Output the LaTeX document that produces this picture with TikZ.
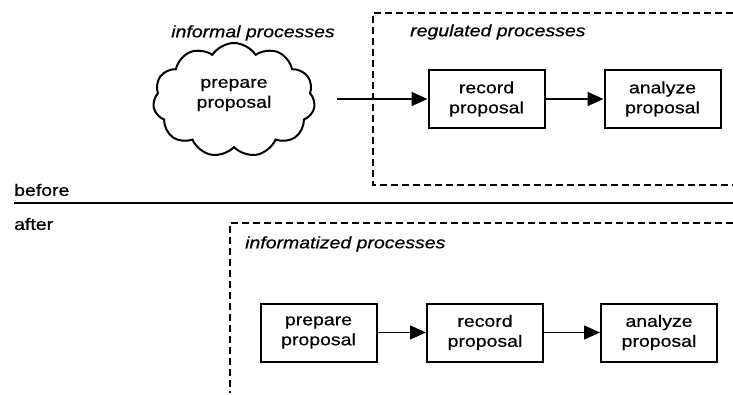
\documentclass[tikz,border=0pt]{standalone}
\usepackage{fontspec}
\setmainfont[FakeStretch=1.18,FakeBold=0.6]{Liberation Sans}
\usetikzlibrary{shapes.symbols,arrows.meta}
\begin{document}
\begin{tikzpicture}[x=1pt,y=-1pt,
  every node/.style={font=\fontsize{16.5}{20}\selectfont},
  procbox/.style={draw,line width=2pt,minimum width=116pt,minimum height=58pt,align=center,inner sep=2pt},
  flow/.style={line width=1.6pt,-{Triangle[length=16pt,width=14pt]}},
  zone/.style={line width=1.6pt,dash pattern=on 7pt off 4pt},
  zonelabel/.style={font=\fontsize{16.5}{20}\selectfont\itshape,anchor=west,inner sep=0pt}]
\useasboundingbox (0,0) rectangle (733,395);

% before: informal cloud and regulated steps
\node[zonelabel,anchor=center] (informal) at (253,33) {informal processes};
\node[cloud,draw,line width=2pt,cloud puffs=11,cloud puff arc=115,aspect=1.45,
      minimum width=162pt,minimum height=114pt,inner sep=0pt,align=center] (cloud) at (234,100) {};
\node[align=center] (prep0) at (234,95) {prepare\\proposal};
\coordinate (start) at (337,99);

\draw[zone] (733,13) -- (373,13) -- (373,185) -- (733,185);
\node[zonelabel] (regulated) at (410,32) {regulated processes};
\node[procbox] (rec0) at (486.5,99) {record\\proposal};
\node[procbox] (ana0) at (662.5,99) {analyze\\proposal};
\draw[flow] (start) -- (rec0.west);
\draw[flow] (rec0) -- (ana0);

% divider
\node[anchor=west,inner sep=0pt] (before) at (14,190) {before};
\node[anchor=west,inner sep=0pt] (after) at (14,224) {after};
\draw[line width=1.8pt] (14,203) -- (733,203);

% after: informatized steps
\draw[zone] (733,223) -- (230,223) -- (230,393);
\node[zonelabel] (informatized) at (245,244) {informatized processes};
\node[procbox] (prep1) at (318.5,332.5) {prepare\\proposal};
\node[procbox] (rec1) at (485,332.5) {record\\proposal};
\node[procbox] (ana1) at (659,332.5) {analyze\\proposal};
\draw[flow] (prep1) -- (rec1);
\draw[flow] (rec1) -- (ana1);
\end{tikzpicture}
\end{document}
